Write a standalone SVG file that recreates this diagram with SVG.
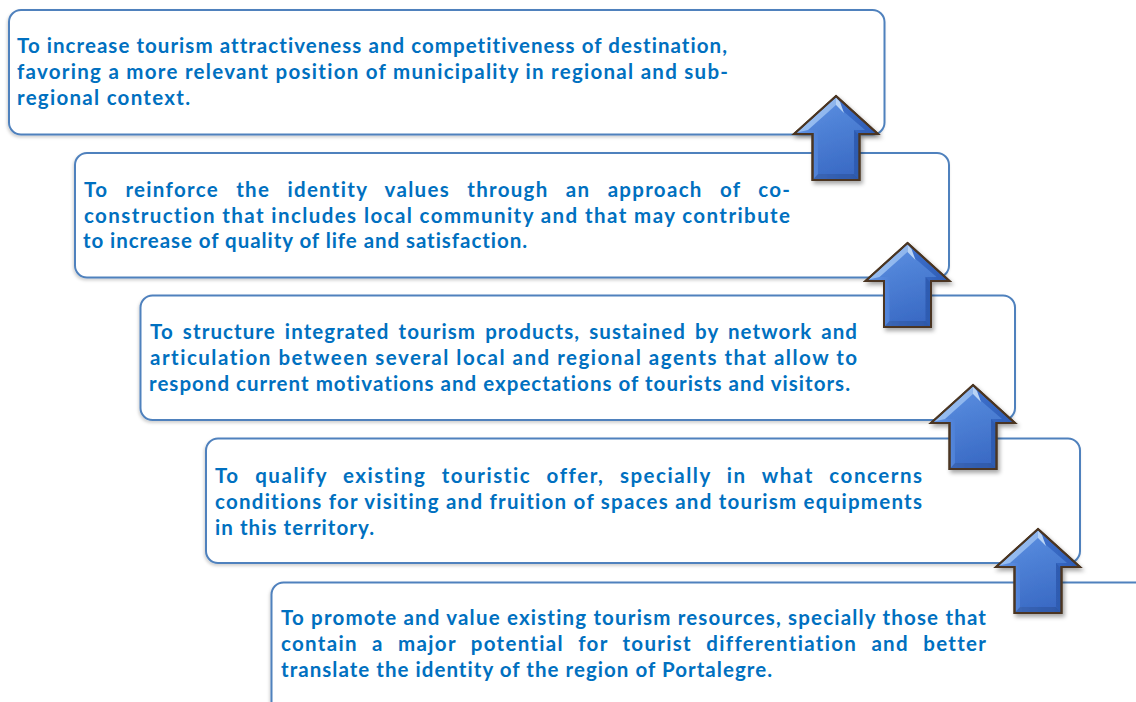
<svg xmlns="http://www.w3.org/2000/svg" width="1136" height="702" viewBox="0 0 1136 702">
<defs>
<style>
.box{fill:#fff;stroke:#4F81BD;stroke-width:2;filter:url(#bs)}
.t{font-family:Lato,"Liberation Sans",sans-serif;font-weight:700;font-size:20.5px;fill:#0070C0;font-variant-ligatures:none}
.ao{stroke:#4B3621;stroke-width:2;stroke-linejoin:miter;fill:url(#ag)}
</style>
<filter id="bs" x="-5%" y="-10%" width="110%" height="130%">
<feDropShadow dx="-1" dy="2" stdDeviation="1.5" flood-color="#000" flood-opacity="0.18"/>
</filter>
<filter id="as" x="-30%" y="-20%" width="160%" height="150%">
<feDropShadow dx="2" dy="3" stdDeviation="2" flood-color="#000" flood-opacity="0.35"/>
</filter>
<linearGradient id="ag" x1="0" y1="0" x2="1" y2="0">
<stop offset="0" stop-color="#6496E4"/>
<stop offset="0.5" stop-color="#3F72CE"/>
<stop offset="1" stop-color="#2C5AB2"/>
</linearGradient>
<linearGradient id="ig" x1="0" y1="0" x2="0" y2="1">
<stop offset="0" stop-color="#5B8FE0"/>
<stop offset="1" stop-color="#3A6AC4"/>
</linearGradient>
<g id="arrow" filter="url(#as)">
<path class="ao" d="M0,0 L42,38 L23.5,38 L23.5,84 L-23.5,84 L-23.5,38 L-42,38 Z"/>
<path d="M0,9 L29,34 L18,34 L18,78 L-18,78 L-18,34 L-29,34 Z" fill="url(#ig)" opacity="0.8"/>
<path d="M0,1.5 L-39,36.5 L-28,34 L0,9 Z" fill="#A9CCF7" opacity="0.75"/>
<path d="M0,1.5 L0,9 L8,17 L4,6 Z" fill="#D8ECFF" opacity="0.8"/>
<path d="M-22.5,83 L22.5,83 L18,78 L-18,78 Z" fill="#2A4E98" opacity="0.55"/>
<path d="M22.5,39 L22.5,83 L18,78 L18,34 Z" fill="#27509F" opacity="0.45"/>
<path class="ao" d="M0,0 L42,38 L23.5,38 L23.5,84 L-23.5,84 L-23.5,38 L-42,38 Z" style="fill:none"/>
</g>
</defs>
<rect width="1136" height="702" fill="#fff"/>

<g id="node1">
<rect class="box" x="9" y="10" width="875.5" height="124.5" rx="12"/>
<text class="t"><tspan x="17" y="53" textLength="710" lengthAdjust="spacing">To increase tourism attractiveness and competitiveness of destination,</tspan><tspan x="17" y="79" textLength="711" lengthAdjust="spacing">favoring a more relevant position of municipality in regional and sub-</tspan><tspan x="17" y="104.5" textLength="173" lengthAdjust="spacing">regional context.</tspan></text>
</g>
<g id="node2">
<rect class="box" x="75" y="153" width="874" height="124.5" rx="12"/>
<text class="t"><tspan x="84" y="196.5" textLength="706" lengthAdjust="spacing" word-spacing="11">To reinforce the identity values through an approach of co-</tspan><tspan x="84" y="222.5" textLength="706" lengthAdjust="spacing">construction that includes local community and that may contribute</tspan><tspan x="83" y="248" textLength="444" lengthAdjust="spacing">to increase of quality of life and satisfaction.</tspan></text>
</g>
<g id="node3">
<rect class="box" x="140.5" y="295.5" width="874.5" height="124.5" rx="12"/>
<text class="t"><tspan x="150" y="338.5" textLength="707" lengthAdjust="spacing" word-spacing="3">To structure integrated tourism products, sustained by network and</tspan><tspan x="150" y="364.5" textLength="707" lengthAdjust="spacing">articulation between several local and regional agents that allow to</tspan><tspan x="149" y="390.5" textLength="701" lengthAdjust="spacing">respond current motivations and expectations of tourists and visitors.</tspan></text>
</g>
<g id="node4">
<rect class="box" x="206" y="438.5" width="874" height="124.5" rx="12"/>
<text class="t"><tspan x="215" y="482.5" textLength="707" lengthAdjust="spacing" word-spacing="9">To qualify existing touristic offer, specially in what concerns</tspan><tspan x="215" y="508.5" textLength="707" lengthAdjust="spacing">conditions for visiting and fruition of spaces and tourism equipments</tspan><tspan x="215" y="534.5" textLength="159" lengthAdjust="spacing">in this territory.</tspan></text>
</g>
<g id="node5">
<rect class="box" x="271.5" y="582.5" width="900" height="200" rx="12"/>
<text class="t"><tspan x="281" y="624.5" textLength="705" lengthAdjust="spacing">To promote and value existing tourism resources, specially those that</tspan><tspan x="281" y="650.5" textLength="705" lengthAdjust="spacing" word-spacing="8">contain a major potential for tourist differentiation and better</tspan><tspan x="281" y="676.5" textLength="491" lengthAdjust="spacing">translate the identity of the region of Portalegre.</tspan></text>
</g>

<g id="connectors">
<use href="#arrow" transform="translate(836,96)"/>
<use href="#arrow" transform="translate(907.5,243)"/>
<use href="#arrow" transform="translate(973,385)"/>
<use href="#arrow" transform="translate(1038,529)"/>
</g>
</svg>
